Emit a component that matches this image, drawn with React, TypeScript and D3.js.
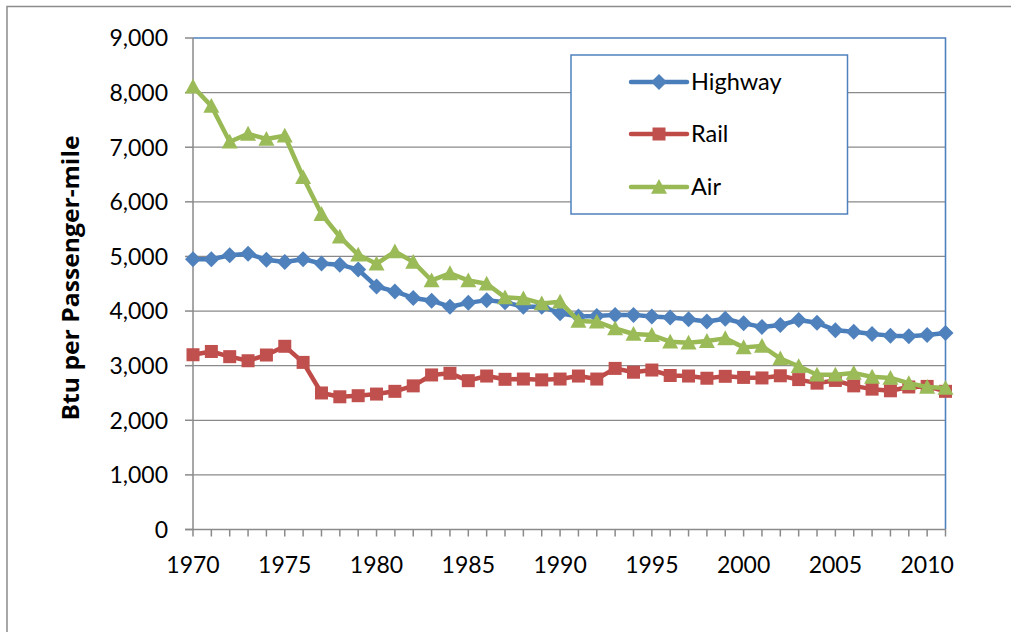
import React from "react";
import * as d3 from "d3";

const years: number[] = d3.range(1970, 2012);
const highway: number[] = [4950, 4950, 5020, 5050, 4940, 4900, 4950, 4870, 4850, 4760, 4450, 4360, 4240, 4190, 4080, 4150, 4200, 4160, 4080, 4080, 3960, 3900, 3910, 3930, 3930, 3900, 3880, 3850, 3810, 3860, 3775, 3710, 3745, 3835, 3785, 3650, 3620, 3580, 3550, 3540, 3560, 3600];
const rail: number[] = [3200, 3260, 3165, 3090, 3195, 3355, 3060, 2500, 2430, 2450, 2480, 2530, 2630, 2830, 2860, 2725, 2810, 2750, 2755, 2740, 2755, 2810, 2755, 2950, 2880, 2920, 2820, 2810, 2770, 2805, 2785, 2775, 2815, 2745, 2680, 2730, 2630, 2570, 2540, 2610, 2620, 2530];
const air: number[] = [8110, 7755, 7100, 7245, 7150, 7210, 6450, 5775, 5360, 5030, 4865, 5090, 4900, 4560, 4690, 4560, 4500, 4250, 4230, 4140, 4170, 3820, 3805, 3680, 3580, 3560, 3440, 3420, 3450, 3500, 3335, 3360, 3130, 2990, 2835, 2835, 2865, 2795, 2775, 2680, 2610, 2590];
const yTicks: number[] = [0, 1000, 2000, 3000, 4000, 5000, 6000, 7000, 8000, 9000];
const xLabels: number[] = [1970, 1975, 1980, 1985, 1990, 1995, 2000, 2005, 2010];
const seriesNames: string[] = ["Highway", "Rail", "Air"];
const yTitle = "Btu per Passenger-mile";

const colors = ["#4A7EBB", "#BE4B48", "#98B954"];
const markerFill = ["#4F81BD", "#C0504D", "#9BBB59"];
const FONT = "Lato, 'Open Sans', sans-serif";

const L = 193, R = 945.5, T = 38, B = 529.5;

function Marker({ kind, x, y, color }: { kind: number; x: number; y: number; color: string }) {
  if (kind === 0) {
    const s = 8;
    return <path d={`M${x},${y - s}L${x + s},${y}L${x},${y + s}L${x - s},${y}Z`} fill={color} />;
  }
  if (kind === 1) {
    const s = 6.5;
    return <rect x={x - s} y={y - s} width={2 * s} height={2 * s} fill={color} />;
  }
  const h = 8;
  return <path d={`M${x},${y - h}L${x + h},${y + h * 0.85}L${x - h},${y + h * 0.85}Z`} fill={color} />;
}

export default function App() {
  const x = d3.scaleLinear().domain([1970, 2011]).range([L, R]);
  const y = d3.scaleLinear().domain([0, 9000]).range([B, T]);
  const data = [highway, rail, air];
  const line = d3
    .line<number>()
    .x((_, i) => x(years[i]))
    .y((d) => y(d));

  const legendRows = [82, 134, 187];

  return (
    <svg
      width={1011}
      height={632}
      style={{ position: "absolute", left: 0, top: 0, background: "#fff" }}
      fontFamily={FONT}
    >
      <rect x={0} y={0} width={1011} height={632} fill="#fff" />
      {/* outer chart border */}
      <path d="M7,640V6.5H1020" fill="none" stroke="#8c8c8c" strokeWidth={1.5} />

      {/* gridlines */}
      {yTicks
        .filter((t) => t > 0 && t < 9000)
        .map((t) => (
          <line key={t} x1={L} x2={R} y1={y(t)} y2={y(t)} stroke="#8a8a8a" strokeWidth={1.2} />
        ))}
      {/* plot border top/right (blue) */}
      <path d={`M${L},${T}H${R}V${B}`} fill="none" stroke="#4F81BD" strokeWidth={1.6} />

      {/* y axis */}
      <line x1={L} x2={L} y1={T} y2={B} stroke="#8a8a8a" strokeWidth={1.5} />
      {yTicks.map((t) => (
        <g key={t}>
          <line x1={L - 8} x2={L} y1={y(t)} y2={y(t)} stroke="#8a8a8a" strokeWidth={1.5} />
          <text x={168} y={y(t)} dy="0.36em" textAnchor="end" fontSize={23} fill="#000">
            {d3.format(",")(t)}
          </text>
        </g>
      ))}

      {/* x axis */}
      <line x1={L - 8} x2={R} y1={B} y2={B} stroke="#8a8a8a" strokeWidth={1.5} />
      {years.map((yr) => (
        <line key={yr} x1={x(yr)} x2={x(yr)} y1={B} y2={B + 7} stroke="#8a8a8a" strokeWidth={1.5} />
      ))}
      {xLabels.map((yr) => (
        <text key={yr} x={x(yr)} y={572.5} textAnchor="middle" fontSize={23} fill="#000">
          {yr}
        </text>
      ))}

      {/* y title */}
      <text
        transform={`translate(79,278) rotate(-90)`}
        textAnchor="middle"
        fontSize={24}
        fontWeight="bold"
        fontFamily="'Open Sans', Lato, sans-serif"
        textLength={285}
        lengthAdjust="spacingAndGlyphs"
        fill="#000"
      >
        {yTitle}
      </text>

      {/* series */}
      {data.map((vals, si) => (
        <g key={si}>
          <path d={line(vals) || ""} fill="none" stroke={colors[si]} strokeWidth={4.5} strokeLinejoin="round" strokeLinecap="round" />
          {vals.map((v, i) => (
            <Marker key={i} kind={si} x={x(years[i])} y={y(v)} color={markerFill[si]} />
          ))}
        </g>
      ))}

      {/* legend */}
      <rect x={571} y={55} width={276.5} height={159} fill="#fff" stroke="#4F81BD" strokeWidth={1.5} />
      {seriesNames.map((name, i) => (
        <g key={name}>
          <line x1={631} x2={687} y1={legendRows[i]} y2={legendRows[i]} stroke={colors[i]} strokeWidth={4.5} strokeLinecap="round" />
          <Marker kind={i} x={659} y={legendRows[i]} color={markerFill[i]} />
          <text x={691} y={legendRows[i]} dy="0.36em" fontSize={23.5} fill="#000">
            {name}
          </text>
        </g>
      ))}
    </svg>
  );
}
